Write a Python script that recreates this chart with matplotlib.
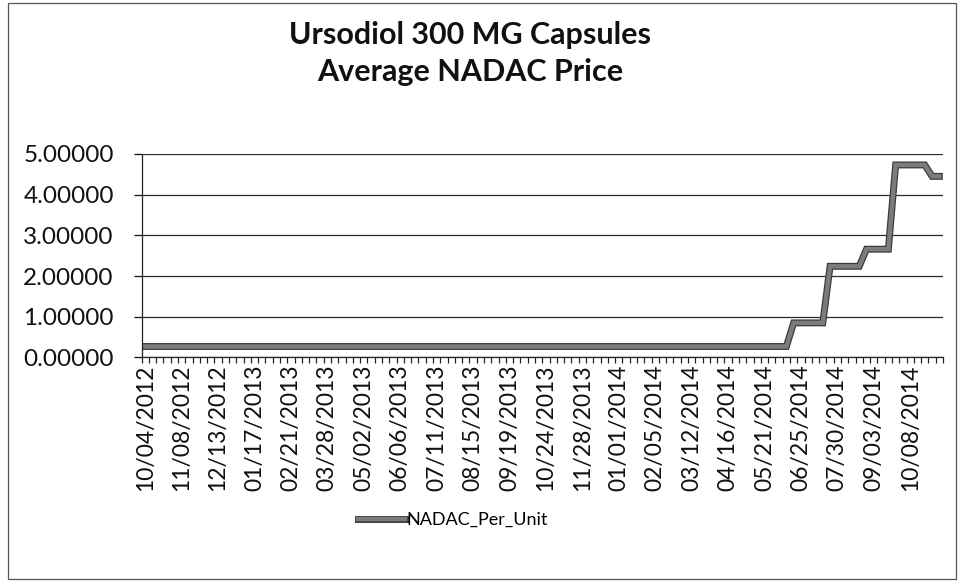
import pandas as pd
import matplotlib.pyplot as plt
import matplotlib.patheffects as pe
from matplotlib.patches import Rectangle

plt.rcParams['font.family'] = ['Lato', 'DejaVu Sans']

# weekly NADAC dates (Thursdays until late 2013, then Wednesdays)
dates_a = pd.date_range('2012-10-04', '2013-12-26', freq='7D')
dates_b = pd.date_range('2014-01-01', '2014-11-05', freq='7D')
dates = [d.strftime('%m/%d/%Y') for d in list(dates_a) + list(dates_b)]

nadac_per_unit = [
    0.27, 0.27, 0.27, 0.27, 0.27, 0.27, 0.27, 0.27, 0.27, 0.27,
    0.27, 0.27, 0.27, 0.27, 0.27, 0.27, 0.27, 0.27, 0.27, 0.27,
    0.27, 0.27, 0.27, 0.27, 0.27, 0.27, 0.27, 0.27, 0.27, 0.27,
    0.27, 0.27, 0.27, 0.27, 0.27, 0.27, 0.27, 0.27, 0.27, 0.27,
    0.27, 0.27, 0.27, 0.27, 0.27, 0.27, 0.27, 0.27, 0.27, 0.27,
    0.27, 0.27, 0.27, 0.27, 0.27, 0.27, 0.27, 0.27, 0.27, 0.27,
    0.27, 0.27, 0.27, 0.27, 0.27, 0.27, 0.27, 0.27, 0.27, 0.27,
    0.27, 0.27, 0.27, 0.27, 0.27, 0.27, 0.27, 0.27, 0.27, 0.27,
    0.27, 0.27, 0.27, 0.27, 0.27, 0.27, 0.27, 0.27, 0.27, 0.85,
    0.85, 0.85, 0.85, 0.85, 2.24, 2.24, 2.24, 2.24, 2.24, 2.66,
    2.66, 2.66, 2.66, 4.73, 4.73, 4.73, 4.73, 4.73, 4.45, 4.45,
]

fig = plt.figure(figsize=(9.6, 5.81), dpi=100)
ax = fig.add_axes([0.1474, 0.3847, 0.8349, 0.3503])

x = list(range(len(dates)))
line, = ax.plot(x, nadac_per_unit, color='#7c7c7c', lw=3.2,
                solid_joinstyle='miter', label='NADAC_Per_Unit',
                path_effects=[pe.Stroke(linewidth=5, foreground='#3c3c3c'), pe.Normal()])

ax.set_xlim(-0.5, len(dates) - 0.5)
ax.set_ylim(0, 5)
ax.set_yticks([0, 1, 2, 3, 4, 5])
ax.set_yticklabels([f'{v:.5f}' for v in [0, 1, 2, 3, 4, 5]])
ax.yaxis.grid(True, color='#2a2a2a', lw=0.9)
ax.set_axisbelow(True)

# labels every 5th week, tick marks between categories
ax.set_xticks(x[::5])
ax.set_xticklabels(dates[::5], rotation=90)
ax.set_xticks([i - 0.5 for i in range(len(dates) + 1)], minor=True)
ax.tick_params(axis='x', which='major', length=0, pad=5, labelsize=16.5, colors='#111111')
ax.tick_params(axis='x', which='minor', length=4, width=0.9, color='#222222', direction='out')
ax.tick_params(axis='y', length=6, width=0.9, pad=14, labelsize=17.5, colors='#111111')

for s in ['top', 'right']:
    ax.spines[s].set_visible(False)
for s in ['left', 'bottom']:
    ax.spines[s].set_color('#222222')
    ax.spines[s].set_linewidth(0.9)

fig.text(0.49, 0.94, 'Ursodiol 300 MG Capsules', ha='center', va='center',
         fontsize=22, fontweight='bold', color='#111111')
fig.text(0.49, 0.876, 'Average NADAC Price', ha='center', va='center',
         fontsize=22, fontweight='bold', color='#111111')

fig.legend(handles=[line], loc='center', bbox_to_anchor=(0.472, 0.105),
           frameon=False, fontsize=13, handlelength=2.6, handletextpad=0.1)

# chart area border
fig.patches.append(Rectangle((0.008, 0.004), 0.988, 0.99, transform=fig.transFigure,
                             fill=False, edgecolor='#555555', lw=0.9))

fig.savefig('out.png', dpi=100)
